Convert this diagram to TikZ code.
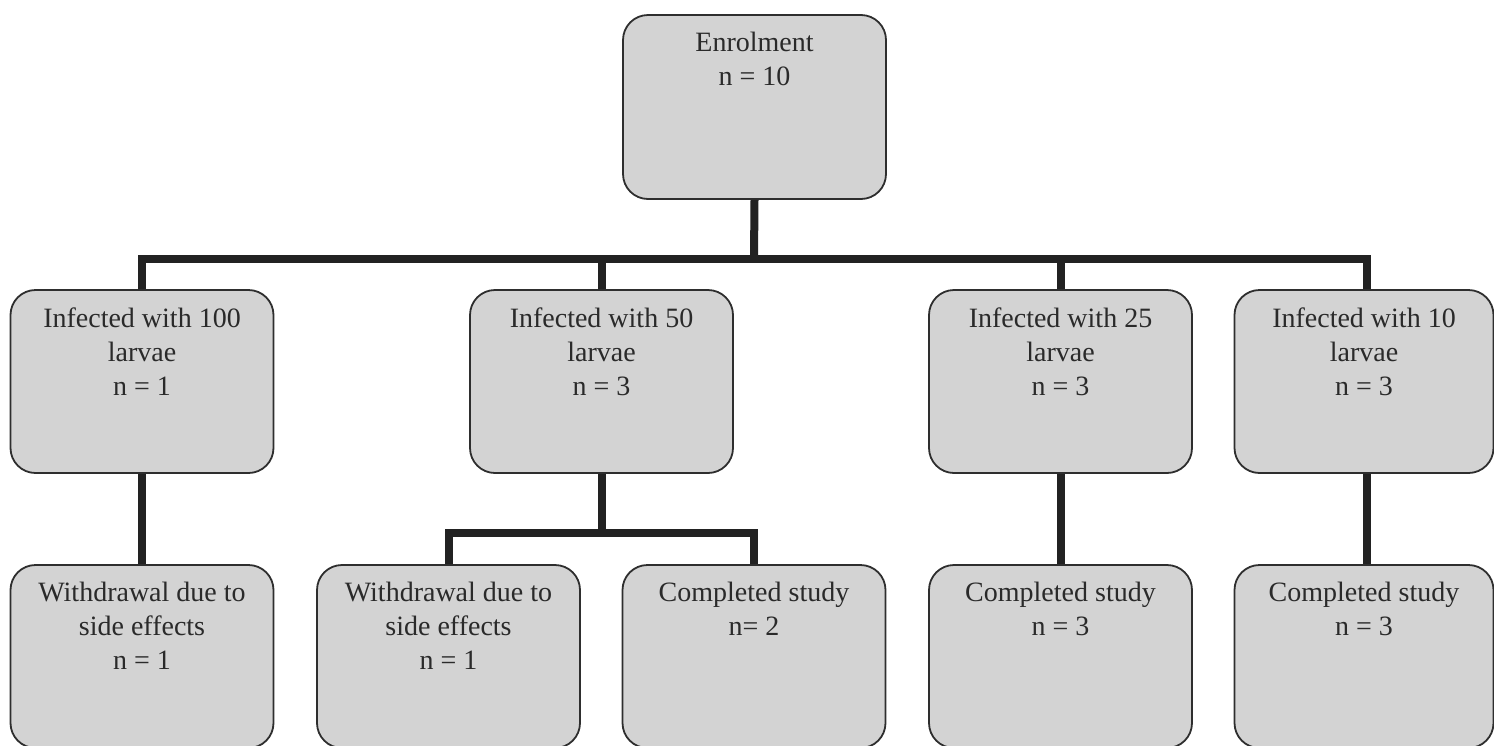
\documentclass[tikz,border=0pt]{standalone}
\usepackage{fontspec}
\setmainfont{Liberation Serif}
\definecolor{boxfill}{HTML}{D3D3D3}
\definecolor{boxline}{HTML}{2E2E2E}
\definecolor{connline}{HTML}{222222}
\definecolor{txtcol}{HTML}{2A2A2A}
\tikzset{
  flowbox/.style={draw=boxline, line width=1.8pt, fill=boxfill, rounded corners=25pt,
    minimum width=263pt, minimum height=183pt, inner sep=0pt},
  boxtext/.style={anchor=north, align=center, inner sep=0pt, text=txtcol,
    font=\fontsize{28}{34}\selectfont},
  conn/.style={draw=connline, line width=8pt, line join=miter, line cap=butt}
}
\begin{document}
\begin{tikzpicture}[x=1pt,y=-1pt]
\useasboundingbox (0,0) rectangle (1494,745);
\begin{scope}
\clip (0,0) rectangle (1494,745);
% top box
\node[flowbox, minimum height=184pt] (enr) at (754.5,107) {};
% row 2
\node[flowbox] (i100) at (142,381.5) {};
\node[flowbox] (i50) at (601.5,381.5) {};
\node[flowbox] (i25) at (1060.5,381.5) {};
\node[flowbox, minimum width=259pt] (i10) at (1364,381.5) {};
% row 3
\node[flowbox] (w100) at (142,656.5) {};
\node[flowbox] (w50) at (448.5,656.5) {};
\node[flowbox] (c50) at (754,656.5) {};
\node[flowbox] (c25) at (1060.5,656.5) {};
\node[flowbox, minimum width=259pt] (c10) at (1364,656.5) {};
% texts
\node[boxtext] (tenr) at ([yshift=-18pt]enr.north) {Enrolment\\n = 10};
\node[boxtext] (ti100) at ([yshift=-18pt]i100.north) {Infected with 100\\larvae\\n = 1};
\node[boxtext] (ti50) at ([yshift=-18pt]i50.north) {Infected with 50\\larvae\\n = 3};
\node[boxtext] (ti25) at ([yshift=-18pt]i25.north) {Infected with 25\\larvae\\n = 3};
\node[boxtext] (ti10) at ([yshift=-18pt]i10.north) {Infected with 10\\larvae\\n = 3};
\node[boxtext] (tw100) at ([yshift=-18pt]w100.north) {Withdrawal due to\\side effects\\n = 1};
\node[boxtext] (tw50) at ([yshift=-18pt]w50.north) {Withdrawal due to\\side effects\\n = 1};
\node[boxtext] (tc50) at ([yshift=-18pt]c50.north) {Completed study\\n= 2};
\node[boxtext] (tc25) at ([yshift=-18pt]c25.north) {Completed study\\n = 3};
\node[boxtext] (tc10) at ([yshift=-18pt]c10.north) {Completed study\\n = 3};
% connectors
\coordinate (bus) at (754,259);
\coordinate (fork) at (601.5,533);
\draw[conn] (enr.south) -- (bus);
\draw[conn] (i100.north) |- (bus) -| ([xshift=3pt]i10.north);
\draw[conn] (i50.north) -- (i50.north |- bus);
\draw[conn] (i25.north) -- (i25.north |- bus);
\draw[conn] (i100.south) -- (w100.north);
\draw[conn] (i50.south) -- (fork);
\draw[conn] (w50.north) |- (fork) -| (c50.north);
\draw[conn] (i25.south) -- (c25.north);
\draw[conn] ([xshift=3pt]i10.south) -- ([xshift=3pt]c10.north);
\end{scope}
\end{tikzpicture}
\end{document}
